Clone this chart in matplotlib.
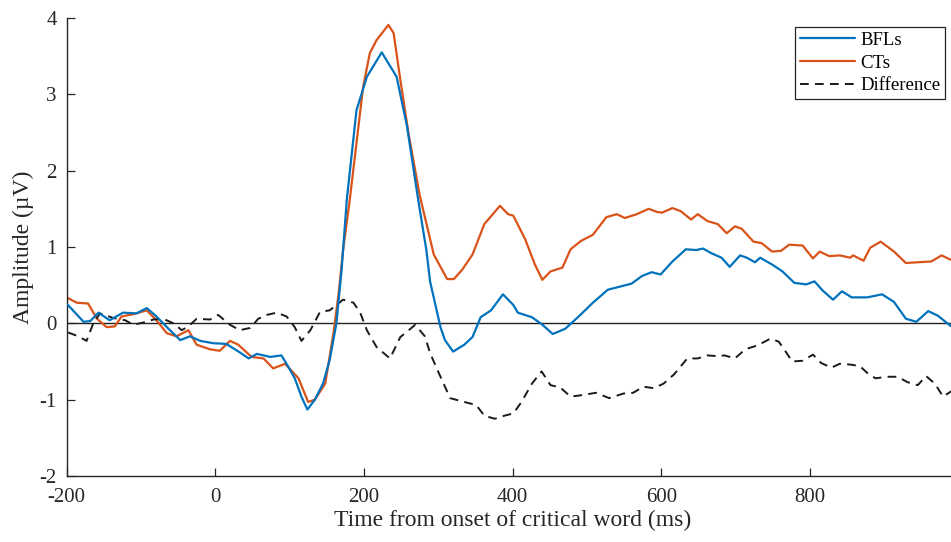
import numpy as np
import matplotlib
matplotlib.use("Agg")
import matplotlib.pyplot as plt

# grand-average ERP waveforms (uV) against time from word onset (ms)
t_bfl = [-198, -177, -168, -157, -142, -124, -106, -92, -79, -65, -47, -34, -20, -3,
         15, 33, 45, 56, 74, 89, 96, 107, 116, 124, 134, 145, 154, 163, 170, 177,
         190, 204, 224, 244, 258, 273, 284, 289, 303, 309, 320, 335, 346, 357, 371,
         387, 401, 407, 426, 439, 454, 471, 490, 508, 528, 544, 560, 574, 587, 599,
         615, 633, 647, 656, 667, 681, 692, 706, 715, 726, 733, 749, 763, 779, 795,
         806, 817, 831, 843, 856, 877, 897, 913, 929, 943, 959, 972, 990]
amp_bfl = [0.24, 0.02, 0.03, 0.14, 0.04, 0.14, 0.13, 0.20, 0.09, -0.05, -0.22, -0.17, -0.23, -0.26,
           -0.27, -0.38, -0.46, -0.40, -0.44, -0.42, -0.53, -0.72, -0.96, -1.13, -1.00, -0.79, -0.48, 0.0, 0.70, 1.62,
           2.79, 3.23, 3.55, 3.23, 2.58, 1.62, 0.96, 0.55, -0.05, -0.22, -0.37, -0.28, -0.18, 0.08, 0.17,
           0.38, 0.24, 0.14, 0.08, -0.01, -0.14, -0.07, 0.10, 0.27, 0.44, 0.48, 0.52, 0.62, 0.67, 0.64,
           0.81, 0.97, 0.96, 0.98, 0.92, 0.86, 0.74, 0.89, 0.86, 0.80, 0.86, 0.77, 0.68, 0.53, 0.51,
           0.55, 0.43, 0.31, 0.42, 0.34, 0.34, 0.38, 0.28, 0.06, 0.02, 0.16, 0.10, -0.04]

t_ct = [-198, -186, -171, -159, -146, -135, -126, -110, -92, -79, -65, -52, -36, -25,
        -7, 6, 20, 31, 49, 65, 78, 94, 112, 125, 134, 148, 159, 166, 172, 181,
        199, 208, 217, 233, 240, 249, 260, 275, 294, 312, 321, 332, 346, 362, 383,
        394, 401, 417, 430, 440, 451, 467, 478, 492, 508, 526, 540, 551, 567, 583,
        594, 601, 615, 626, 640, 649, 662, 676, 688, 699, 708, 724, 735, 749, 761,
        772, 790, 804, 813, 826, 840, 854, 858, 872, 881, 895, 913, 929, 945, 963,
        977, 990]
amp_ct = [0.33, 0.27, 0.26, 0.06, -0.05, -0.04, 0.09, 0.12, 0.17, 0.04, -0.13, -0.17, -0.09, -0.28,
          -0.34, -0.36, -0.23, -0.28, -0.44, -0.46, -0.59, -0.53, -0.72, -1.03, -1.00, -0.79, -0.13, 0.39, 0.96, 1.62,
          3.10, 3.54, 3.71, 3.91, 3.80, 3.19, 2.49, 1.68, 0.90, 0.58, 0.58, 0.70, 0.90, 1.30, 1.54,
          1.43, 1.41, 1.10, 0.77, 0.57, 0.68, 0.73, 0.97, 1.08, 1.16, 1.39, 1.43, 1.38, 1.43, 1.50,
          1.46, 1.45, 1.51, 1.47, 1.36, 1.43, 1.34, 1.30, 1.18, 1.27, 1.24, 1.07, 1.05, 0.94, 0.95,
          1.03, 1.02, 0.85, 0.94, 0.88, 0.89, 0.86, 0.89, 0.82, 0.99, 1.07, 0.94, 0.79, 0.80, 0.81,
          0.89, 0.83]

t_diff = [-198, -184, -173, -164, -155, -137, -121, -110, -97, -83, -70, -56, -45, -36,
          -25, -7, 4, 20, 33, 47, 58, 69, 83, 96, 107, 116, 128, 141, 154, 172,
          186, 195, 204, 217, 235, 249, 269, 282, 289, 303, 316, 335, 351, 362, 376,
          389, 401, 412, 426, 439, 451, 464, 478, 494, 512, 530, 549, 562, 576, 590,
          603, 617, 635, 649, 662, 676, 685, 699, 713, 729, 747, 758, 770, 776, 790,
          804, 815, 829, 840, 854, 867, 877, 888, 904, 918, 931, 945, 956, 968, 979, 990]
amp_diff = [-0.12, -0.17, -0.23, 0.0, 0.13, 0.07, 0.04, -0.02, 0.01, 0.05, 0.06, 0.0, -0.09, -0.04,
            0.06, 0.05, 0.11, -0.02, -0.09, -0.06, 0.06, 0.11, 0.14, 0.09, -0.05, -0.23, -0.09, 0.15, 0.17, 0.31,
            0.27, 0.14, -0.09, -0.31, -0.46, -0.18, -0.02, -0.17, -0.39, -0.70, -0.98, -1.03, -1.07, -1.21, -1.25,
            -1.21, -1.18, -1.03, -0.79, -0.63, -0.81, -0.84, -0.96, -0.94, -0.91, -0.98, -0.92, -0.91, -0.83, -0.85,
            -0.79, -0.67, -0.46, -0.46, -0.42, -0.43, -0.42, -0.46, -0.34, -0.29, -0.20, -0.24, -0.41, -0.50, -0.49,
            -0.41, -0.52, -0.58, -0.53, -0.54, -0.56, -0.65, -0.72, -0.70, -0.70, -0.77, -0.81, -0.69, -0.79, -0.96, -0.89]

series_names = ["BFLs", "CTs", "Difference"]

plt.rcParams["font.family"] = ["Liberation Serif", "DejaVu Serif"]
plt.rcParams["axes.unicode_minus"] = False

W, H = 951, 542
fig = plt.figure(figsize=(W / 100, H / 100), dpi=100)
# axes runs a little past the right edge, so the last tick at 1000 is cut off
ax = fig.add_axes([66.5 / W, 66 / H, 892.2 / W, 458 / H])

ax.axhline(0, color="#222222", lw=1.0, zorder=1)
line_kw = dict(solid_joinstyle="round", solid_capstyle="round")
ax.plot(t_bfl, amp_bfl, color="#0072BD", lw=1.6, label=series_names[0], zorder=3, **line_kw)
ax.plot(t_ct, amp_ct, color="#D95319", lw=1.6, label=series_names[1], zorder=2, **line_kw)
ax.plot(t_diff, amp_diff, color="#1a1a1a", lw=1.4, ls=(0, (4.5, 3.2)),
        label=series_names[2], zorder=2, dash_joinstyle="round")

ax.set_xlim(-200, 1000)
ax.set_ylim(-2, 4)
ax.set_xticks(np.arange(-200, 801, 200))
ax.set_yticks(np.arange(-2, 5, 1))

for s in ["top", "right"]:
    ax.spines[s].set_visible(False)
for s in ["left", "bottom"]:
    ax.spines[s].set_color("#262626")
    ax.spines[s].set_linewidth(1.0)

ax.tick_params(axis="both", direction="in", length=5.5, width=0.9, color="#262626",
               labelsize=15, labelcolor="#262626")
ax.tick_params(axis="x", pad=9)
ax.tick_params(axis="y", pad=7)

ax.set_xlabel("Time from onset of critical word (ms)", fontsize=17, color="#262626")
ax.set_ylabel("Amplitude (\u00b5V)", fontsize=17, color="#262626")
ax.xaxis.set_label_coords(0.5, -0.075)
ax.yaxis.set_label_coords(-0.036, 0.5)

leg = ax.legend(loc="upper right", bbox_to_anchor=(0.9846, 0.980), borderaxespad=0,
                fontsize=13.5, frameon=True, fancybox=False, framealpha=1,
                handlelength=2.9, handletextpad=0.3, labelspacing=0.3, borderpad=0.25)
leg.get_frame().set_edgecolor("#262626")
leg.get_frame().set_linewidth(0.9)

fig.savefig("out.png", dpi=100)
